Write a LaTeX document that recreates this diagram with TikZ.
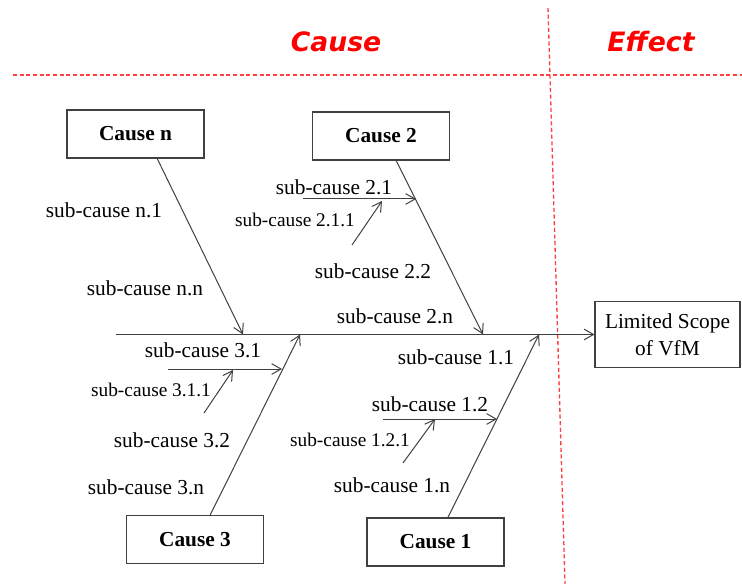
\documentclass[tikz,border=0pt]{standalone}
\usepackage{fontspec}
\setmainfont{Liberation Serif}
\newfontfamily\titlefont{DejaVu Sans}
\usetikzlibrary{arrows.meta,calc}

\begin{document}
\begin{tikzpicture}[x=0.75pt,y=-0.75pt,
	box/.style={draw=black!75,line width=0.8pt,font=\bfseries\fontsize{16}{18}\selectfont,minimum width=102.75pt,minimum height=36pt,inner sep=0pt},
	lbl/.style={font=\fontsize{16}{18}\selectfont,inner sep=0pt},
	sml/.style={font=\fontsize{14.5}{16}\selectfont,inner sep=0pt},
	bone/.style={draw=black!75,line width=0.75pt,-{Straight Barb[length=7pt,width=8pt]}},
	sep/.style={draw=red!75,line width=1pt,dash pattern=on 3pt off 2pt},
	title/.style={font=\titlefont\bfseries\itshape\fontsize{20}{24}\selectfont,text=red}]
	\useasboundingbox (0,0) rectangle (742,584);
	% header
	\draw [sep] (13,75) -- (742,75);
	\draw [sep] (548,8) -- (565,584);
	\node [title] (tcause) at (336,42) {Cause};
	\node [title] (teffect) at (651,42) {Effect};
	% boxes
	\node [box] (cn) at (135.5,134) {Cause n};
	\node [box] (c2) at (381,136) {Cause 2};
	\node [box] (c3) at (195,539.5) {Cause 3};
	\node [box] (c1) at (435.5,542) {Cause 1};
	\node [box,font=\fontsize{16}{20}\selectfont,align=center,minimum width=108.75pt,minimum height=49.5pt] (eff) at (667.5,334.5) {Limited Scope\\of VfM};
	% spine
	\coordinate (tail) at (116,334.5);
	\coordinate (pn) at (243,334.5);
	\coordinate (p2) at (483,334.5);
	\coordinate (p3) at (300,334.5);
	\coordinate (p1) at (539,334.5);
	\draw [bone] (tail) -- (eff.west);
	\draw [bone] ($(cn.south west)!0.657!(cn.south east)$) -- (pn);
	\draw [bone] ($(c2.south west)!0.61!(c2.south east)$) -- (p2);
	\draw [bone] ($(c3.north west)!0.61!(c3.north east)$) -- (p3);
	\draw [bone] ($(c1.north west)!0.59!(c1.north east)$) -- (p1);
	% sub-cause arrows
	\coordinate (s21) at (303,199);
	\coordinate (e21) at (416,199);
	\coordinate (s211) at (352,245);
	\coordinate (e211) at (382,201);
	\coordinate (s31) at (168,369);
	\coordinate (e31) at (282,369);
	\coordinate (s311) at (204,413);
	\coordinate (e311) at (233,370);
	\coordinate (s12) at (383,419);
	\coordinate (e12) at (497,419);
	\coordinate (s121) at (403,463);
	\coordinate (e121) at (435,419);
	\draw [bone] (s21) -- (e21);
	\draw [bone] (s211) -- (e211);
	\draw [bone] (s31) -- (e31);
	\draw [bone] (s311) -- (e311);
	\draw [bone] (s12) -- (e12);
	\draw [bone] (s121) -- (e121);
	% labels
	\node [lbl] (ln1) at (104,210) {sub-cause n.1};
	\node [lbl] (lnn) at (145,288) {sub-cause n.n};
	\node [lbl] (l21) at (334,187) {sub-cause 2.1};
	\node [sml] (l211) at (295,220) {sub-cause 2.1.1};
	\node [lbl] (l22) at (373,271) {sub-cause 2.2};
	\node [lbl] (l2n) at (395,316) {sub-cause 2.n};
	\node [lbl] (l31) at (203,350) {sub-cause 3.1};
	\node [sml] (l311) at (151,390) {sub-cause 3.1.1};
	\node [lbl] (l32) at (172,440) {sub-cause 3.2};
	\node [lbl] (l3n) at (146,487) {sub-cause 3.n};
	\node [lbl] (l11) at (456,357) {sub-cause 1.1};
	\node [lbl] (l12) at (430,404) {sub-cause 1.2};
	\node [sml] (l121) at (350,440) {sub-cause 1.2.1};
	\node [lbl] (l1n) at (392,485) {sub-cause 1.n};
\end{tikzpicture}
\end{document}
